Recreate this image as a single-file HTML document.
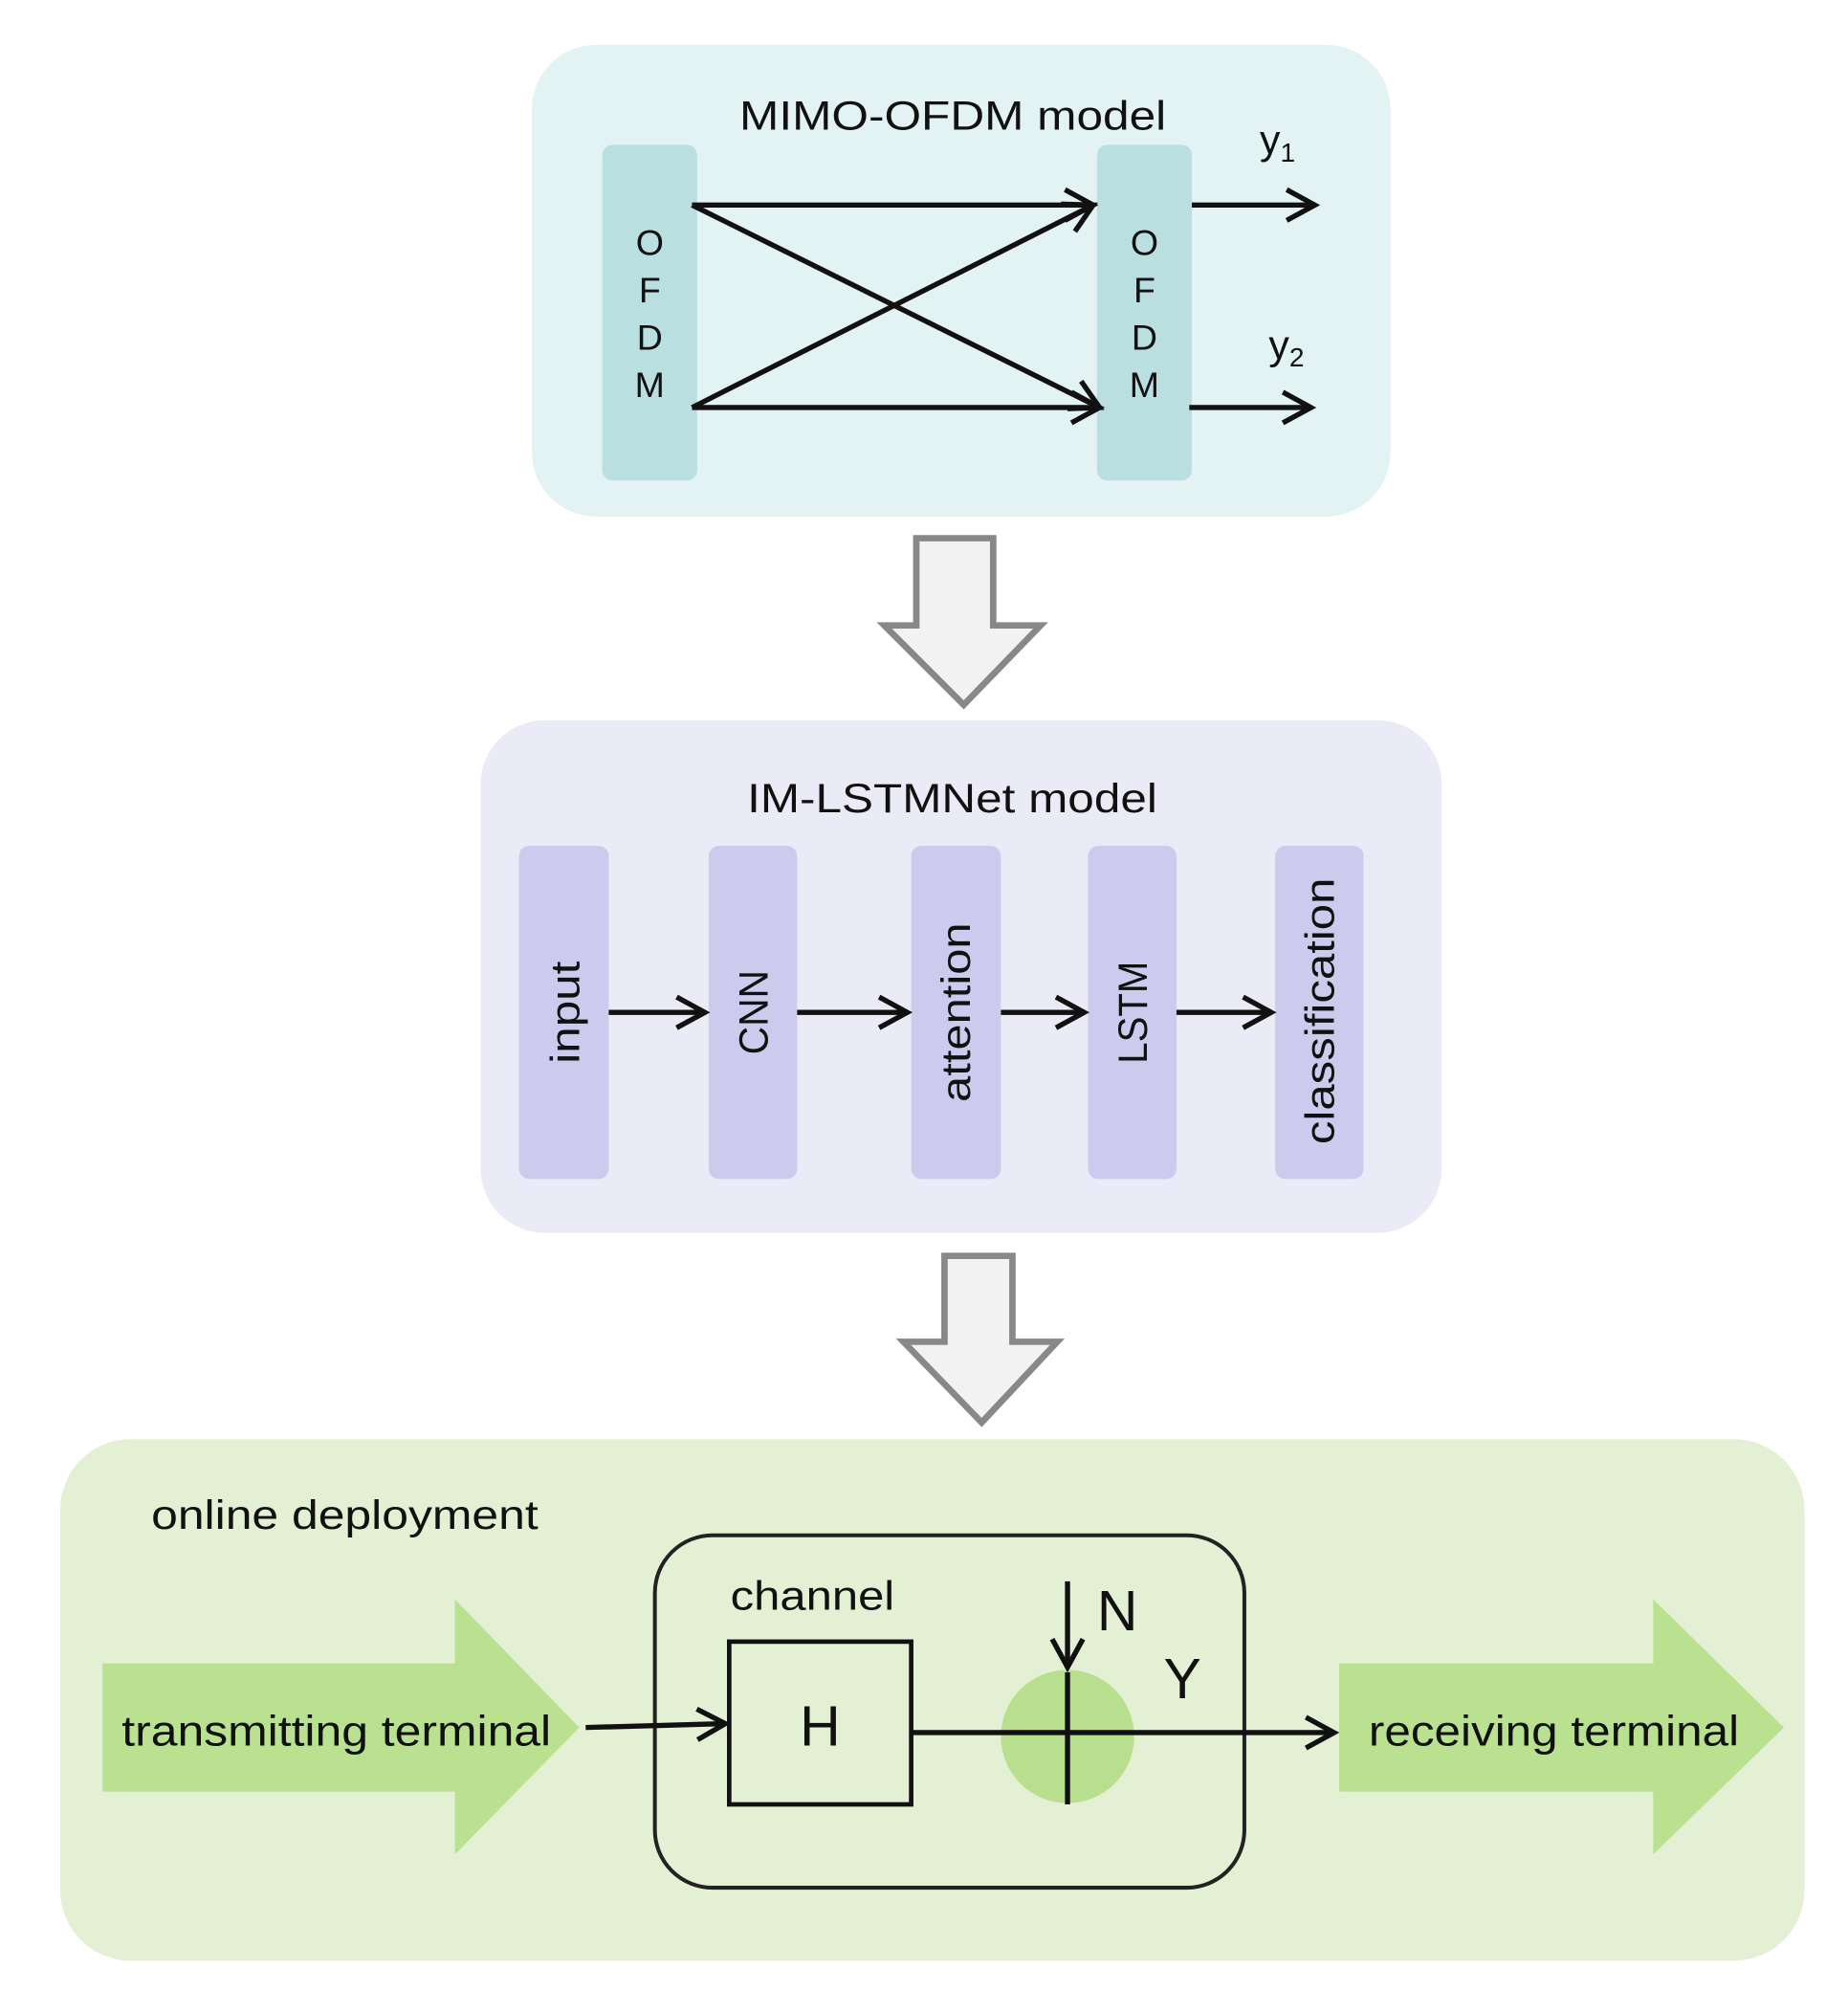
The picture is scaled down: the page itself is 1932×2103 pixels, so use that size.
<!DOCTYPE html>
<html><head><meta charset="utf-8"><style>
html,body{margin:0;padding:0;background:#fff;}
svg{display:block;}
text{font-family:"Liberation Sans",sans-serif;fill:#111;}
</style></head><body>
<svg width="1932" height="2103" viewBox="0 0 1442 1570" preserveAspectRatio="none" xmlns="http://www.w3.org/2000/svg">
<defs>
<marker id="ab" markerWidth="30" markerHeight="30" refX="26" refY="15" orient="auto" markerUnits="userSpaceOnUse">
<path d="M4,3 L26,15 L4,27" fill="none" stroke="#111" stroke-width="4"/>
</marker>
</defs>
<!-- Top box -->
<rect x="415" y="35" width="670" height="368" rx="50" fill="#e3f3f3"/>
<text x="577" y="101" font-size="32" textLength="333" lengthAdjust="spacingAndGlyphs">MIMO-OFDM model</text>
<rect x="470" y="113" width="74" height="262" rx="8" fill="#b9dfe0"/>
<rect x="856" y="113" width="74" height="262" rx="8" fill="#b9dfe0"/>
<g font-size="28" text-anchor="middle">
<text x="507" y="199">O</text><text x="507" y="236">F</text><text x="507" y="273">D</text><text x="507" y="310">M</text>
<text x="893" y="199">O</text><text x="893" y="236">F</text><text x="893" y="273">D</text><text x="893" y="310">M</text>
</g>
<g stroke="#111" stroke-width="4" fill="none">
<line x1="540" y1="160" x2="853" y2="160" marker-end="url(#ab)"/>
<line x1="540" y1="160" x2="858" y2="318" marker-end="url(#ab)"/>
<line x1="540" y1="318" x2="853" y2="160" marker-end="url(#ab)"/>
<line x1="540" y1="318" x2="858" y2="318" marker-end="url(#ab)"/>
<line x1="930" y1="160" x2="1026" y2="160" marker-end="url(#ab)"/>
<line x1="928" y1="318" x2="1023" y2="318" marker-end="url(#ab)"/>
</g>
<text x="983" y="120" font-size="32">y<tspan font-size="21" dy="6">1</tspan></text>
<text x="990" y="280" font-size="32">y<tspan font-size="21" dy="6">2</tspan></text>
<!-- hollow arrow 1 -->
<path d="M715,420 L775,420 L775,488 L812,488 L752,550 L690,488 L715,488 Z" fill="#f2f2f2" stroke="#888" stroke-width="5"/>
<!-- middle box -->
<rect x="375" y="562" width="750" height="400" rx="50" fill="#ebebf8"/>
<text x="583" y="634" font-size="32" textLength="320" lengthAdjust="spacingAndGlyphs">IM-LSTMNet model</text>
<g fill="#cccbee">
<rect x="405" y="660" width="70" height="260" rx="8"/>
<rect x="553" y="660" width="69" height="260" rx="8"/>
<rect x="711" y="660" width="70" height="260" rx="8"/>
<rect x="849" y="660" width="69" height="260" rx="8"/>
<rect x="995" y="660" width="69" height="260" rx="8"/>
</g>
<g font-size="32" text-anchor="middle" lengthAdjust="spacingAndGlyphs">
<text transform="translate(452,790) rotate(-90)" textLength="80" lengthAdjust="spacingAndGlyphs">input</text>
<text transform="translate(599,790) rotate(-90)" textLength="66" lengthAdjust="spacingAndGlyphs">CNN</text>
<text transform="translate(757,790) rotate(-90)" textLength="140" lengthAdjust="spacingAndGlyphs">attention</text>
<text transform="translate(895,790) rotate(-90)" textLength="80" lengthAdjust="spacingAndGlyphs">LSTM</text>
<text transform="translate(1041,789) rotate(-90)" textLength="208" lengthAdjust="spacingAndGlyphs">classification</text>
</g>
<g stroke="#111" stroke-width="4">
<line x1="475" y1="790" x2="550" y2="790" marker-end="url(#ab)"/>
<line x1="622" y1="790" x2="708" y2="790" marker-end="url(#ab)"/>
<line x1="781" y1="790" x2="846" y2="790" marker-end="url(#ab)"/>
<line x1="918" y1="790" x2="992" y2="790" marker-end="url(#ab)"/>
</g>
<!-- hollow arrow 2 -->
<path d="M737,980 L790,980 L790,1047 L825,1047 L766,1110 L705,1047 L737,1047 Z" fill="#f2f2f2" stroke="#888" stroke-width="5"/>
<!-- bottom box -->
<rect x="47" y="1123" width="1361" height="407" rx="55" fill="#e3f0d3"/>
<text x="118" y="1193" font-size="32" textLength="302" lengthAdjust="spacingAndGlyphs">online deployment</text>
<path d="M80,1298 L355,1298 L355,1248 L452,1348 L355,1447 L355,1398 L80,1398 Z" fill="#b9e18f"/>
<path d="M1045,1298 L1290,1298 L1290,1248 L1392,1348 L1290,1447 L1290,1398 L1045,1398 Z" fill="#b9e18f"/>
<text x="95" y="1362" font-size="33" textLength="335" lengthAdjust="spacingAndGlyphs">transmitting terminal</text>
<text x="1068" y="1362" font-size="33" textLength="289" lengthAdjust="spacingAndGlyphs">receiving terminal</text>
<rect x="511" y="1198" width="460" height="275" rx="45" fill="none" stroke="#222" stroke-width="3"/>
<text x="570" y="1256" font-size="32" textLength="128" lengthAdjust="spacingAndGlyphs">channel</text>
<rect x="569" y="1281" width="142" height="127" fill="none" stroke="#111" stroke-width="3.5"/>
<text x="640" y="1362" font-size="44" text-anchor="middle">H</text>
<circle cx="833" cy="1355" r="52" fill="#b8df8d"/>
<g stroke="#111" stroke-width="4">
<line x1="457" y1="1348" x2="566" y2="1345" marker-end="url(#ab)"/>
<line x1="711" y1="1352" x2="1041" y2="1352" marker-end="url(#ab)"/>
<line x1="833" y1="1305" x2="833" y2="1408"/>
<line x1="833" y1="1234" x2="833" y2="1301" marker-end="url(#ab)"/>
</g>
<text x="856" y="1272" font-size="44">N</text>
<text x="908" y="1325" font-size="44">Y</text>
</svg>
</body></html>
